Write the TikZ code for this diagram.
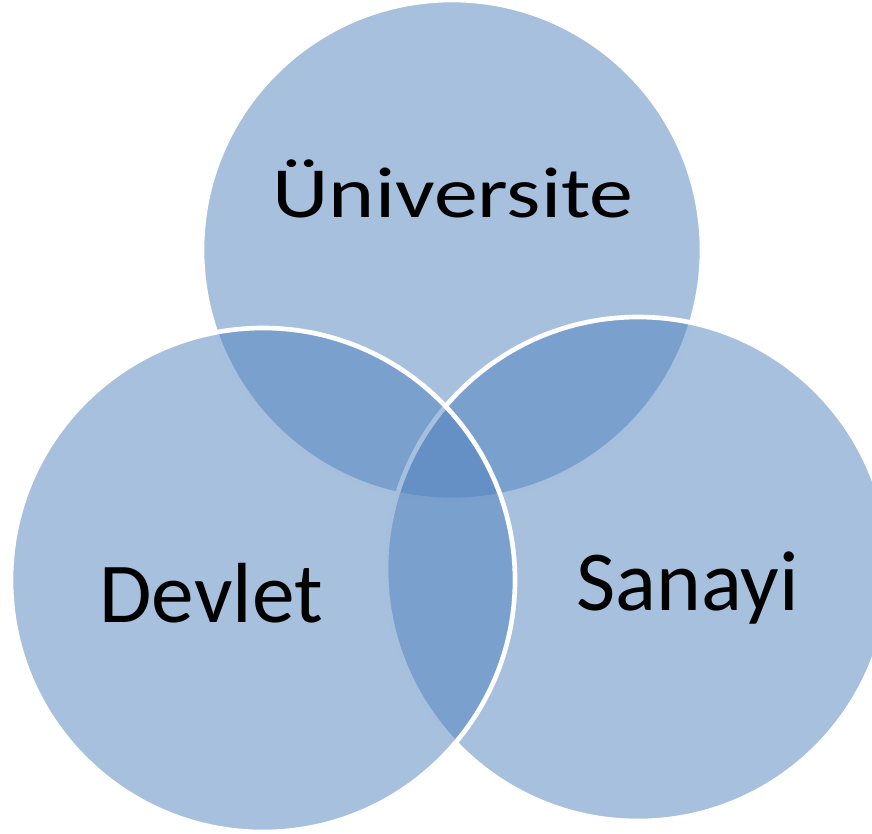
\documentclass[tikz,border=0pt]{standalone}
\usepackage{fontspec}
\setmainfont{Carlito}
\definecolor{setblue}{RGB}{79,129,189}

\begin{document}
\begin{tikzpicture}[x=0.75pt,y=-0.75pt,
setnode/.style={circle, fill=setblue, fill opacity=0.5, draw=white, draw opacity=1, line width=3.5pt, inner sep=0pt},
setlabel/.style={anchor=base, text=black, inner sep=0pt, font=\fontsize{64}{64}\selectfont}
]
    \useasboundingbox (0,0) rectangle (872,833);

    \node [setnode, minimum size=375pt] (uni) at (452,250) {};
    \node [setnode, minimum size=378pt] (san) at (638,569) {};
    \node [setnode, minimum size=378pt] (dev) at (263,580) {};

    \node [setlabel] (uniText) at (453,217) {\scalebox{1.22}[1]{\fontsize{54}{54}\selectfont Üniversite}};
    \node [setlabel] (devText) at (211,622) {Devlet};
    \node [setlabel] (sanText) at (688,610) {Sanayi};

\end{tikzpicture}
\end{document}
